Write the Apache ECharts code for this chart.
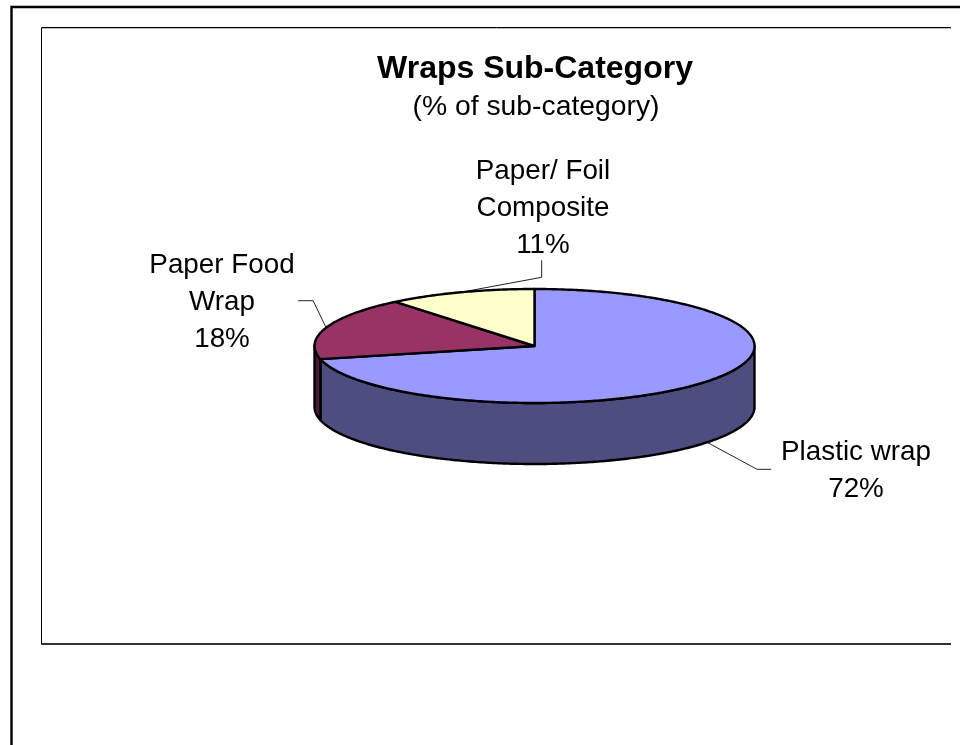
<!DOCTYPE html>
<html><head><meta charset="utf-8">
<style>html,body{margin:0;padding:0;background:#fff}#c{width:960px;height:745px}</style>
<script src="https://cdn.jsdelivr.net/npm/echarts@6/dist/echarts.min.js"></script>
</head><body><div id="c"></div>
<script>
const categories = ['Plastic wrap', 'Paper Food\nWrap', 'Paper/ Foil\nComposite'];
const values = [72, 18, 11];
const topColors = ['#9999FF', '#993366', '#FFFFCC'];
const wallColors = ['#4D4D80', '#4D1933', '#808066'];
const titleText = 'Wraps Sub-Category';
const subtitleText = '(% of sub-category)';

const FONT = '"Liberation Sans", Arial, sans-serif';
const pie = {cx: 534.5, cy: 346, rx: 220, ry: 57, depth: 61};
const leaderOffsets = [
  [[50, 27], [64, 27]],
  [[-13, -27], [-28, -27]],
  [[81, -15], [81, -32]]
];
const labelAt = [[856, 471], [222, 302], [543, 208]];

const total = values.reduce((a, b) => a + b, 0);
const starts = [];
values.reduce((acc, v, i) => { starts[i] = acc; return acc + v; }, 0);
const ang = v => v / total * Math.PI * 2;
const pt = (t, dy) => [pie.cx + pie.rx * Math.sin(t), pie.cy - pie.ry * Math.cos(t) + (dy || 0)];
function arc(a, b, dy) {
  const n = Math.max(2, Math.ceil(Math.abs(b - a) / 0.012));
  const out = [];
  for (let i = 0; i <= n; i++) out.push(pt(a + (b - a) * i / n, dy));
  return out;
}
const edge = {stroke: '#000', lineWidth: 2.4, lineJoin: 'round'};

function renderWalls(params) {
  const i = params.dataIndex;
  const a0 = ang(starts[i]), a1 = ang(starts[i] + values[i]);
  const lo = Math.max(a0, Math.PI / 2), hi = Math.min(a1, Math.PI * 1.5);
  if (hi <= lo) return {type: 'group', children: []};
  const front = arc(lo, hi, 0);
  const back = arc(hi, lo, pie.depth);
  return {type: 'polygon', shape: {points: front.concat(back)},
          style: Object.assign({fill: wallColors[i]}, edge)};
}
function renderTops(params) {
  const i = params.dataIndex;
  const a0 = ang(starts[i]), a1 = ang(starts[i] + values[i]);
  const pts = [[pie.cx, pie.cy]].concat(arc(a0, a1, 0));
  return {type: 'polygon', shape: {points: pts},
          style: Object.assign({fill: topColors[i]}, edge)};
}
function renderLabels(params) {
  const i = params.dataIndex;
  const mid = ang(starts[i] + values[i] / 2);
  const onWall = Math.cos(mid) < -0.2;
  const p = pt(mid, onWall ? pie.depth : 0);
  const leader = [p].concat(leaderOffsets[i].map(o => [p[0] + o[0], p[1] + o[1]]));
  return {type: 'group', children: [
    {type: 'polyline', shape: {points: leader},
     style: {stroke: '#222', lineWidth: 1, fill: null}},
    {type: 'text', x: labelAt[i][0], y: labelAt[i][1],
     style: {text: categories[i] + '\n' + values[i] + '%', font: '27.8px ' + FONT, lineHeight: 37,
             fill: '#000', align: 'center', verticalAlign: 'middle'}}
  ]};
}
const seriesData = values.map(v => [v]);
const chart = echarts.init(document.getElementById('c'), null, {renderer: 'canvas'});
chart.setOption({
  animation: false,
  backgroundColor: '#fff',
  title: [
    {text: titleText, left: 530, top: 48, textAlign: 'center',
     textStyle: {fontFamily: FONT, fontSize: 32, fontWeight: 'bold', color: '#000'}},
    {text: subtitleText, left: 531, top: 88, textAlign: 'center',
     textStyle: {fontFamily: FONT, fontSize: 28.3, fontWeight: 'normal', color: '#000'}}
  ],
  graphic: [
    {type: 'polyline', shape: {points: [[11.5, 745], [11.5, 7], [960, 7]]}, style: {stroke: '#000', lineWidth: 2.4, fill: null}},
    {type: 'line', shape: {x1: 42, y1: 28.5, x2: 951, y2: 28.5}, style: {stroke: '#bbb', lineWidth: 1}},
    {type: 'line', shape: {x1: 41, y1: 644, x2: 951, y2: 644}, style: {stroke: '#333', lineWidth: 2}},
    {type: 'polyline', shape: {points: [[951, 27.5], [41.5, 27.5], [41.5, 644]]}, style: {stroke: '#000', lineWidth: 1, fill: null}}
  ],
  series: [
    {type: 'custom', coordinateSystem: 'none', silent: true, z: 2, data: seriesData, renderItem: renderWalls},
    {type: 'custom', coordinateSystem: 'none', silent: true, z: 3, data: seriesData, renderItem: renderTops},
    {type: 'custom', coordinateSystem: 'none', silent: true, z: 1, data: seriesData, renderItem: renderLabels}
  ]
});
</script></body></html>
